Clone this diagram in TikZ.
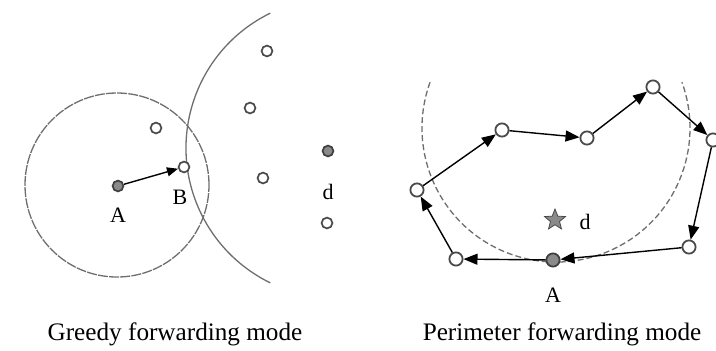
\documentclass[tikz,border=0pt]{standalone}
\usepackage{fontspec}
\setmainfont{Liberation Serif}
\usetikzlibrary{arrows.meta,shapes.geometric}
\definecolor{cgris}{HTML}{4A4A4A}
\definecolor{crelleno}{HTML}{8A8A8A}
\definecolor{carco}{HTML}{6E6E6E}
\tikzset{
  nodo/.style={circle, draw=cgris, fill=white, line width=0.85pt,
    minimum size=5.4pt, inner sep=0pt},
  nodof/.style={nodo, fill=crelleno, draw=black!75},
  nodop/.style={nodo, minimum size=6.6pt, line width=0.9pt},
  nodopf/.style={nodop, fill=crelleno, draw=black!75},
  estrella/.style={star, star points=5, star point ratio=2.3, draw=cgris,
    fill=crelleno, minimum size=11pt, inner sep=0pt},
  flecha/.style={-{Triangle[length=5.5pt,width=4.5pt]}, line width=0.7pt, draw=black},
  flechap/.style={-{Triangle[length=7pt,width=5.5pt]}, line width=0.7pt, draw=black},
  alcance/.style={draw=carco, line width=0.65pt},
  etq/.style={font=\fontsize{11}{13}\selectfont, inner sep=0pt},
  titulo/.style={font=\fontsize{12.6}{15}\selectfont, inner sep=0pt},
}

\begin{document}
\begin{tikzpicture}[x=0.5pt, y=0.5pt]
  \useasboundingbox (0,0) rectangle (716,350);
  % modo voraz
  \draw[alcance, dash pattern=on 5pt off 0.6pt] (117,165) circle[radius=92];
  \draw[alcance] (336,202) ++(116:150) arc[start angle=116, end angle=244, radius=150];
  \node[nodof] (gA) at (118,164) {};
  \node[nodo] (gB) at (184,183) {};
  \node[nodo] (g1) at (156,222) {};
  \node[nodo] (g2) at (267,299) {};
  \node[nodo] (g3) at (250,242) {};
  \node[nodo] (g4) at (263,172) {};
  \node[nodof] (gd) at (328,199) {};
  \node[nodo] (g5) at (327,127) {};
  \node[etq] (etqgA) at (118,135) {A};
  \node[etq] (etqgB) at (180,153) {B};
  \node[etq] (etqgd) at (328,158) {d};
  \draw[flecha] (gA) -- (gB);
  % modo perimetro
  \draw[alcance, dash pattern=on 3pt off 1.5pt] (556,222) ++(160:134) arc[start angle=160, end angle=380, radius=134];
  \node[nodop] (p1) at (417,160) {};
  \node[nodop] (p2) at (502,220) {};
  \node[nodop] (p3) at (587,212) {};
  \node[nodop] (p4) at (653,263) {};
  \node[nodop] (p5) at (713,210) {};
  \node[nodop] (p6) at (689,103) {};
  \node[nodopf] (pA) at (553,90) {};
  \node[nodop] (p7) at (456,91) {};
  \node[estrella] (pd) at (555,130) {};
  \node[etq] (etqpd) at (585,128) {d};
  \node[etq] (etqpA) at (553,55) {A};
  \foreach \a/\b in {p1/p2, p2/p3, p3/p4, p4/p5, p5/p6, p6/pA, pA/p7, p7/p1}
    \draw[flechap] (\a) -- (\b);
  % titulos
  \node[titulo] (tg) at (175,16) {Greedy forwarding mode};
  \node[titulo] (tp) at (562,16) {Perimeter forwarding mode};
\end{tikzpicture}
\end{document}
